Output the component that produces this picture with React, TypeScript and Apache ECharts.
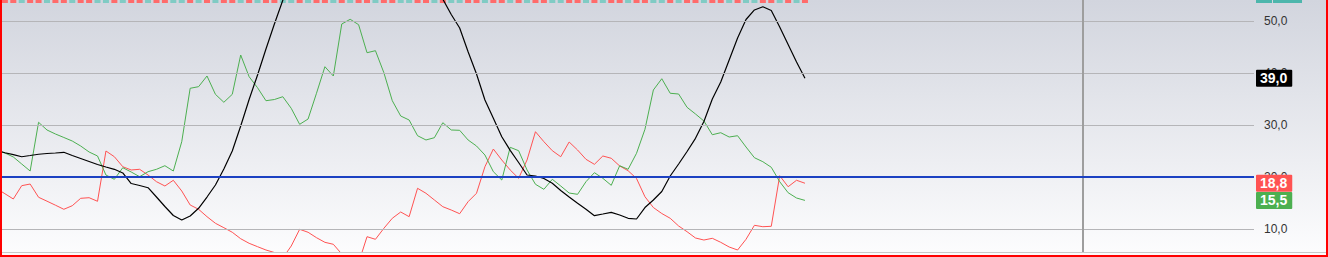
import React, { useEffect, useRef } from 'react';
import * as echarts from 'echarts';

// index -1 is the point just left of the visible area
const firstIndex = -1;

const blackLine = [
  25.1, 24.67, 24.29, 23.9, 24.13, 24.37, 24.52, 24.62, 24.75, 24.13, 23.56,
  22.98, 22.4, 21.92, 21.48, 20.77, 18.75, 18.37, 17.94, 16.15, 14.33, 12.6,
  11.73, 12.5, 13.98, 16.15, 18.46, 21.54, 25.0, 29.81, 34.9, 39.62, 44.62,
  49.42, 53.98, 57.5, 60.5, 63.0, 65.0, 66.5, 67.5, 68.0, 68.0, 67.5, 66.5,
  65.5, 64.0, 62.5, 61.0, 59.5, 58.0, 56.8, 55.5, 54.2, 51.25, 48.65, 44.1,
  39.81, 34.81, 31.29, 27.75, 25.13, 22.79, 20.38, 20.19, 19.71, 18.79, 17.4,
  16.15, 14.94, 13.79, 12.56, 12.88, 13.21, 12.69, 12.06, 11.92, 14.13, 15.58,
  17.21, 20.19, 22.5, 24.9, 27.44, 30.67, 35.0, 38.27, 42.5, 46.73, 50.29,
  52.12, 52.75, 52.02, 48.85, 45.48, 42.12, 39.0,
];

const greenLine = [
  25.1, 24.62, 23.85, 22.5, 21.15, 30.52, 29.04, 28.27, 27.6, 26.92, 25.96,
  24.81, 24.04, 20.38, 19.56, 21.79, 20.96, 20.06, 21.02, 21.48, 22.17, 21.15,
  26.79, 37.06, 37.37, 39.42, 35.9, 34.37, 35.9, 43.46, 39.29, 37.17, 34.67,
  34.9, 35.44, 33.21, 30.13, 31.15, 36.1, 41.21, 39.42, 49.42, 50.33, 49.29,
  43.9, 44.29, 40.06, 34.67, 31.73, 30.96, 27.94, 27.12, 27.56, 30.44, 29.04,
  28.98, 27.12, 25.96, 24.23, 21.02, 19.42, 25.71, 25.06, 21.35, 18.6, 17.63,
  19.56, 18.27, 16.92, 16.67, 19.1, 20.83, 19.75, 18.4, 22.17, 21.48, 24.56,
  29.17, 36.73, 38.9, 36.1, 35.96, 33.4, 32.12, 30.77, 28.13, 28.52, 27.69,
  27.94, 25.77, 23.71, 22.94, 21.87, 19.1, 16.98, 15.96, 15.5,
];

const redLine = [
  17.79, 16.79, 15.77, 18.33, 18.65, 16.1, 15.35, 14.58, 13.79, 14.48, 15.9,
  16.02, 15.33, 25.0, 23.9, 21.98, 21.35, 21.48, 20.38, 19.1, 18.27, 19.37,
  17.31, 14.62, 13.79, 12.37, 11.1, 10.25, 9.37, 8.13, 7.25, 6.6, 5.96, 5.48,
  4.42, 6.73, 9.94, 9.37, 8.33, 7.44, 7.06, 5.19, 4.04, 3.46, 8.52, 8.02,
  10.13, 12.06, 13.27, 12.37, 17.83, 16.87, 15.58, 14.29, 13.65, 12.94, 15.25,
  16.87, 21.98, 25.38, 23.27, 21.35, 19.75, 23.27, 28.71, 26.79, 25.06, 23.9,
  26.73, 25.19, 23.4, 22.44, 24.04, 23.6, 22.12, 21.21, 19.71, 16.21, 14.13,
  12.98, 12.06, 10.58, 9.48, 8.27, 7.88, 8.21, 7.44, 6.54, 5.96, 8.02, 10.71,
  10.44, 10.52, 20.25, 18.13, 19.37, 18.8,
];

// up (1) / down (0) candles of the pane above, whose bottoms show at the top edge
const candleDir = [
  0, 0, 1, 0, 0, 1, 0, 0, 1, 0, 0, 1, 1, 0, 1, 0, 0, 1, 0, 0, 1, 1, 0, 1,
  0, 1, 0, 0, 1, 0, 1, 0, 0, 1, 1, 0, 1, 0, 0, 1, 0, 1, 0, 0, 1, 0, 0, 1,
  1, 0, 0, 1, 0, 1, 1, 0, 0, 1, 0, 0, 1, 0, 1, 0, 0, 1, 1, 0, 0, 1, 0, 1,
  0, 0, 1, 0, 0, 1, 1, 0, 1, 0, 0, 1, 0, 0, 1, 0, 1, 1, 0, 0, 1, 0, 1, 0,
];

const gridTicks = [10, 20, 30, 40, 50];
const baseLevel = 20;
const cursorIndex = 128;
const yMin = 5.385;
const yMax = 54.038;
const xMin = -0.5794;
const xMax = 148.317;
const lowerPaneLabel = '100,00';

const fmt = (v: number) => v.toFixed(1).replace('.', ',');
const FONT = '"Liberation Sans", Arial, sans-serif';

const BLACK = '#000000';
const GREEN = '#4caf50';
const RED = '#ff5252';

function toPairs(values: number[]) {
  return values.map((v, i) => [i + firstIndex, v]);
}

function valueTag(v: number, bg: string) {
  return {
    yAxis: v,
    lineStyle: { color: 'rgba(0,0,0,0)', width: 0 },
    label: {
      show: true,
      position: 'end' as const,
      distance: 2,
      formatter: fmt(v),
      backgroundColor: bg,
      color: '#ffffff',
      fontWeight: 'bold' as const,
      fontSize: 14,
      fontFamily: FONT,
      padding: [1, 5, 1, 4],
      lineHeight: 15,
      borderRadius: 1,
      opacity: 1,
    },
  };
}

export default function App() {
  const ref = useRef<HTMLDivElement>(null);

  useEffect(() => {
    document.body.style.margin = '0';
    if (!ref.current) return;
    const chart = echarts.init(ref.current, undefined, { renderer: 'svg' });

    const lastBlack = blackLine[blackLine.length - 1];
    const lastGreen = greenLine[greenLine.length - 1];
    const lastRed = redLine[redLine.length - 1];

    chart.setOption({
      animation: false,
      backgroundColor: new echarts.graphic.LinearGradient(0, 0, 0, 1, [
        { offset: 0, color: '#d2d5de' },
        { offset: 1, color: '#fdfdfe' },
      ]),
      grid: { left: 0, top: 0, width: 1254, height: 253, containLabel: false },
      xAxis: {
        type: 'value',
        min: xMin,
        max: xMax,
        show: false,
      },
      yAxis: {
        type: 'value',
        min: yMin,
        max: yMax,
        show: false,
        splitLine: { show: false },
      },
      graphic: [
        {
          type: 'rect',
          shape: { x: 0, y: 253, width: 1328, height: 4 },
          style: { fill: '#fbfbfc' },
          z: 5,
        },
        {
          type: 'line',
          shape: { x1: 0, y1: 252.5, x2: 1328, y2: 252.5 },
          style: { stroke: '#c9c9c9', lineWidth: 1 },
          z: 6,
        },
        {
          type: 'text',
          x: 1265,
          y: 255,
          style: {
            text: lowerPaneLabel,
            fill: '#333',
            font: `12px ${FONT}`,
            textVerticalAlign: 'top',
          },
          z: 6,
        },
        {
          type: 'rect',
          shape: { x: 1256, y: 0, width: 16, height: 3 },
          style: { fill: '#4db6ac' },
          z: 6,
        },
        {
          type: 'rect',
          shape: { x: 1273, y: 0, width: 29, height: 3 },
          style: { fill: '#4db6ac' },
          z: 6,
        },
        {
          type: 'line',
          shape: { x1: 1, y1: 0, x2: 1, y2: 257 },
          style: { stroke: '#ff0000', lineWidth: 2 },
          z: 10,
        },
        {
          type: 'line',
          shape: { x1: 1327, y1: 0, x2: 1327, y2: 257 },
          style: { stroke: '#ff0000', lineWidth: 2 },
          z: 10,
        },
        {
          type: 'line',
          shape: { x1: 0, y1: 256, x2: 1328, y2: 256 },
          style: { stroke: '#ff0000', lineWidth: 2 },
          z: 10,
        },
      ],
      series: [
        {
          type: 'line',
          data: [],
          z: 1,
          silent: true,
          markLine: {
            silent: true,
            symbol: ['none', 'none'],
            animation: false,
            data: [
              ...gridTicks.map((t) => ({
                yAxis: t,
                lineStyle: { color: '#b5b5b8', width: 1, type: 'solid' },
                label: {
                  show: true,
                  position: 'end',
                  distance: 10,
                  formatter: fmt(t),
                  color: '#333333',
                  fontSize: 12,
                  fontFamily: FONT,
                },
              })),
              {
                xAxis: cursorIndex,
                lineStyle: { color: '#9e9e9e', width: 2, type: 'solid' },
                label: { show: false },
              },
              {
                yAxis: baseLevel,
                lineStyle: { color: '#1c41c2', width: 2, type: 'solid' },
                label: { show: false },
              },
            ],
          },
        },
        {
          type: 'custom',
          z: 2,
          silent: true,
          data: candleDir.map((d, i) => [i, d]),
          renderItem: (params: any, api: any) => {
            const x = api.coord([api.value(0), yMax])[0];
            return {
              type: 'rect',
              shape: { x: x - 3, y: 0, width: 6, height: 3 },
              style: { fill: api.value(1) > 0 ? '#80cbc4' : '#ff6b6b' },
            };
          },
        },
        {
          name: 'red',
          type: 'line',
          data: toPairs(redLine),
          showSymbol: false,
          z: 3,
          lineStyle: { color: RED, width: 1 },
          markLine: {
            silent: true,
            symbol: ['none', 'none'],
            data: [valueTag(lastRed, RED)],
          },
        },
        {
          name: 'green',
          type: 'line',
          data: toPairs(greenLine),
          showSymbol: false,
          z: 3,
          lineStyle: { color: GREEN, width: 1 },
          markLine: {
            silent: true,
            symbol: ['none', 'none'],
            data: [valueTag(lastGreen, GREEN)],
          },
        },
        {
          name: 'black',
          type: 'line',
          data: toPairs(blackLine),
          showSymbol: false,
          z: 4,
          lineStyle: { color: BLACK, width: 1.2 },
          markLine: {
            silent: true,
            symbol: ['none', 'none'],
            data: [valueTag(lastBlack, BLACK)],
          },
        },
      ],
    });

    return () => chart.dispose();
  }, []);

  return (
    <div
      ref={ref}
      style={{ position: 'absolute', left: 0, top: 0, width: 1328, height: 257 }}
    />
  );
}
